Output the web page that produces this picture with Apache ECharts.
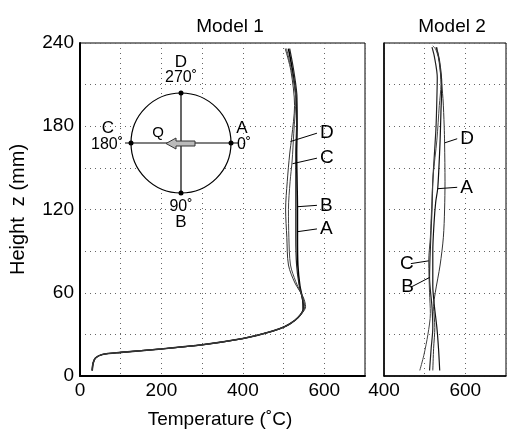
<!DOCTYPE html>
<html>
<head>
<meta charset="utf-8">
<script src="https://cdn.jsdelivr.net/npm/echarts@6/dist/echarts.min.js"></script>
<style>
  html, body { margin: 0; padding: 0; background: #fff; }
  #main { width: 507px; height: 429px; }
</style>
</head>
<body>
<div id="main"></div>
<script>
// temperature (C), height z (mm) pairs
var m1Base = [[30,4],[32,9],[38,13],[55,15.5],[100,17],[200,19.5],[300,22.5],[400,27],[450,30.5],[490,34],[515,37.5],[535,42]];
var m1A = [[548,48],[547,55],[540,65],[535,80],[534,100],[534,120],[533,140],[532,160],[533,180],[531,200],[522,220],[512,236]];
var m1B = [[550,49],[546,56],[538,66],[532,80],[530,100],[530,122],[530,140],[530,160],[532,180],[533,200],[525,220],[515,236]];
var m1C = [[552,50],[545,58],[530,68],[517,80],[513,100],[512,120],[516,140],[521,155],[525,175],[530,200],[520,220],[507,236]];
var m1D = [[554,50],[548,57],[528,67],[512,80],[508,100],[505,120],[509,140],[515,160],[520,172],[527,195],[518,220],[504,236]];

var m2A = [[537,4],[534,20],[530,35],[524,50],[520,65],[520,90],[523,110],[527,125],[532,135],[535,150],[538,170],[540,190],[542,210],[536,228],[528,237]];
var m2B = [[512,4],[516,20],[520,35],[518,50],[514,62],[512,71],[515,100],[518,120],[520,140],[524,160],[528,180],[530,200],[531,215],[524,230],[518,237]];
var m2C = [[488,4],[498,15],[508,30],[514,45],[512,60],[510,83],[514,100],[517,120],[521,145],[530,170],[536,195],[540,210],[537,225],[528,235],[520,238]];
var m2D = [[520,4],[522,20],[525,35],[522,50],[526,60],[538,80],[546,100],[549,120],[550,140],[549,168],[548,180],[545,200],[540,215],[534,230],[530,237]];

// leader lines: [point on curve, end near letter]
var lead1 = { D: [[517,169],[582,175]], C: [[522,153],[582,157]], B: [[534,122],[582,123]], A: [[534,104],[582,106]] };
var lead2 = { D: [[549,168],[580,171]], A: [[532,135],[580,136]], C: [[510,83],[466,81]], B: [[512,71],[466,64]] };

var font = '"Liberation Sans", Arial, sans-serif';

function curve(name, pts, idx, w, col) {
  return { name: name, type: 'line', xAxisIndex: idx, yAxisIndex: idx, data: pts,
    showSymbol: false, smooth: 0.3, silent: true,
    lineStyle: { color: col, width: w }, z: 3 };
}
function leader(letter, seg, idx, side) {
  return { type: 'line', xAxisIndex: idx, yAxisIndex: idx, data: seg, silent: true,
    showSymbol: false, lineStyle: { color: '#000', width: 1 },
    endLabel: { show: true, formatter: letter, color: '#000', fontSize: 19, fontFamily: font,
      distance: 3, align: side, verticalAlign: 'middle' }, z: 4 };
}

var xLab = function (v) { return v % 200 === 0 ? String(v) : ''; };
var yLab = function (v) { return v % 60 === 0 ? String(v) : ''; };
var split = { show: true, lineStyle: { type: [1, 4], color: '#666', width: 1 } };

var chart = echarts.init(document.getElementById('main'));
var series = [
  curve('A', m1Base.concat(m1A), 0, 1.6, '#000'),
  curve('B', m1Base.concat(m1B), 0, 1.2, '#222'),
  curve('C', m1Base.concat(m1C), 0, 1, '#444'),
  curve('D', m1Base.concat(m1D), 0, 1, '#333'),
  curve('A', m2A, 1, 1.2, '#111'),
  curve('B', m2B, 1, 1.2, '#222'),
  curve('C', m2C, 1, 1, '#444'),
  curve('D', m2D, 1, 1, '#333')
];
['D','C','B','A'].forEach(function (k) { series.push(leader(k, lead1[k], 0, 'left')); });
['D','A'].forEach(function (k) { series.push(leader(k, lead2[k], 1, 'left')); });
['C','B'].forEach(function (k) { series.push(leader(k, lead2[k], 1, 'right')); });

var cx = 181, cy = 143, r = 50;
var ring = '#000';
function txt(x, y, s, size) {
  return { type: 'text', x: x, y: y, z: 10, style: { text: s, fill: '#000', font: (size || 15) + 'px ' + font, align: 'center', verticalAlign: 'middle' } };
}
function dot(x, y) {
  return { type: 'circle', z: 11, shape: { cx: x, cy: y, r: 2.5 }, style: { fill: '#000' } };
}
var ttl = { fontSize: 19, fontWeight: 'normal', color: '#000', fontFamily: font };

var option = {
  animation: false,
  backgroundColor: '#fff',
  title: [
    { text: 'Model 1', left: 225, top: 12, textAlign: 'center', textStyle: ttl },
    { text: 'Model 2', left: 447, top: 12, textAlign: 'center', textStyle: ttl },
    { text: 'Temperature (˚C)', left: 215, top: 405, textAlign: 'center', textStyle: ttl }
  ],
  grid: [
    { left: 78, top: 43, width: 287, height: 333, show: true, borderColor: '#000', borderWidth: 1 },
    { left: 384, top: 43, width: 122, height: 333, show: true, borderColor: '#000', borderWidth: 1 }
  ],
  xAxis: [
    { gridIndex: 0, type: 'value', min: 0, max: 700, interval: 100,
      axisLine: { lineStyle: { color: '#000', width: 2 } }, axisTick: { show: false },
      axisLabel: { formatter: xLab, color: '#000', fontSize: 19, fontFamily: font, margin: 5, showMaxLabel: false },
      splitLine: split },
    { gridIndex: 1, type: 'value', min: 400, max: 700, interval: 100,
      axisLine: { lineStyle: { color: '#000', width: 1.5 } }, axisTick: { show: false },
      axisLabel: { formatter: xLab, color: '#000', fontSize: 19, fontFamily: font, margin: 5, showMaxLabel: false },
      splitLine: split }
  ],
  yAxis: [
    { gridIndex: 0, type: 'value', min: 0, max: 240, interval: 30,
      name: 'Height  z (mm)', nameLocation: 'middle', nameGap: 52,
      nameTextStyle: { fontSize: 20, color: '#000', fontFamily: font },
      axisLine: { show: true, lineStyle: { color: '#000', width: 2 } }, axisTick: { show: false },
      axisLabel: { formatter: yLab, color: '#000', fontSize: 19, fontFamily: font, margin: 6 },
      splitLine: split },
    { gridIndex: 1, type: 'value', min: 0, max: 240, interval: 30,
      axisLine: { show: true, lineStyle: { color: '#000', width: 1.5 } }, axisTick: { show: false },
      axisLabel: { show: false }, splitLine: split }
  ],
  graphic: [
    { type: 'circle', z: 10, shape: { cx: cx, cy: cy, r: r }, style: { fill: '#fff', stroke: ring, lineWidth: 1.2 } },
    { type: 'line', z: 10, shape: { x1: cx, y1: cy - r, x2: cx, y2: cy + r }, style: { stroke: ring, lineWidth: 1.2 } },
    { type: 'line', z: 10, shape: { x1: cx - r - 6, y1: cy, x2: cx + r + 8, y2: cy }, style: { stroke: ring, lineWidth: 1.2 } },
    dot(cx, cy - r), dot(cx, cy + r), dot(cx - r, cy), dot(cx + r, cy),
    { type: 'polygon', z: 12, shape: { points: [[195,141],[176,141],[176,138],[166,143.5],[176,149],[176,146],[195,146]] },
      style: { fill: '#bbb', stroke: '#333', lineWidth: 1 } },
    txt(181, 62, 'D', 17), txt(181, 78, '270˚', 16),
    txt(108, 128, 'C', 17), txt(107, 145, '180˚', 16),
    txt(242, 128, 'A', 17), txt(244, 145, '0˚', 16),
    txt(181, 207, '90˚', 16), txt(181, 222, 'B', 17),
    txt(158, 133, 'Q', 15)
  ],
  series: series
};
chart.setOption(option);
</script>
</body>
</html>
